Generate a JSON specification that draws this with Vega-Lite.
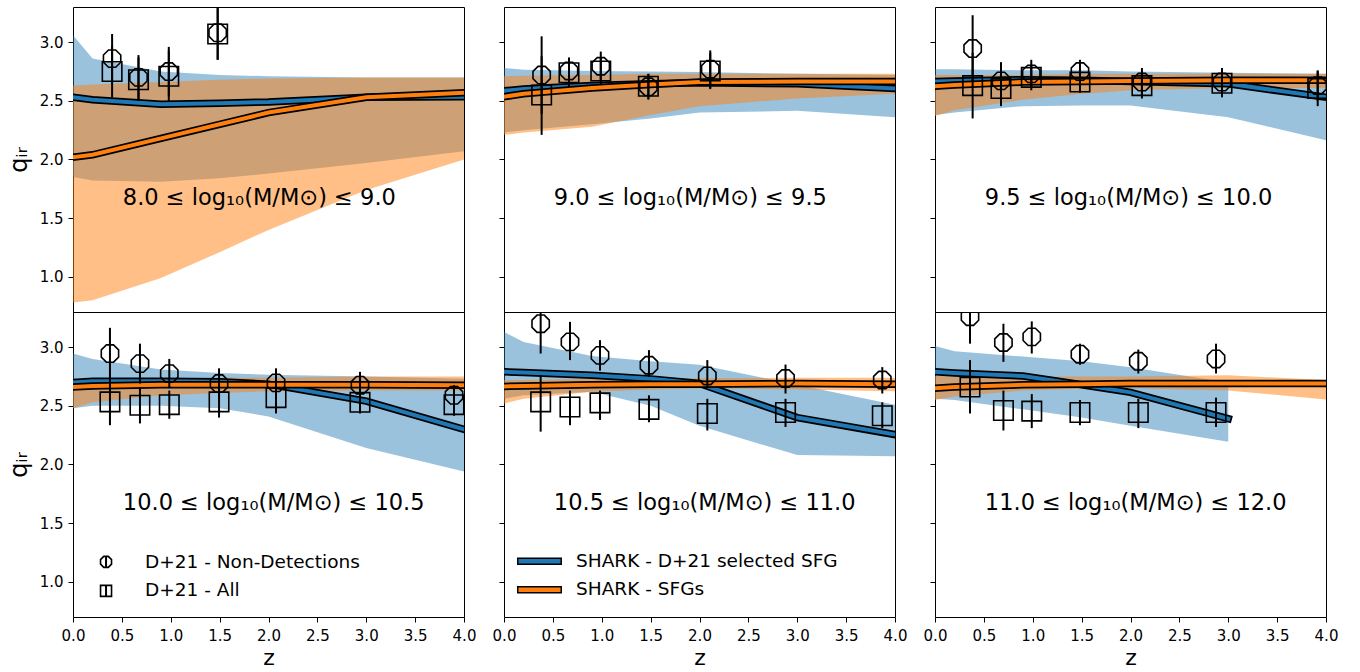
{
"$schema": "https://vega.github.io/schema/vega-lite/v6.json",
"padding": {"left": 6, "top": 6, "right": 5, "bottom": 0},
"columns": 3,
"bounds": "flush",
"spacing": {"row": 0, "column": 40},
"datasets": {
"sim": [
{"p":1,"z":0,"b_lo":1.85,"b_hi":3.06,"b_med":2.53,"o_lo":0.78,"o_hi":2.63,"o_med":2.02},
{"p":1,"z":0.2,"b_lo":1.82,"b_hi":2.86,"b_med":2.51,"o_lo":0.80,"o_hi":2.64,"o_med":2.04},
{"p":1,"z":0.9,"b_lo":1.81,"b_hi":2.75,"b_med":2.47,"o_lo":0.99,"o_hi":2.66,"o_med":2.18},
{"p":1,"z":1.5,"b_lo":1.84,"b_hi":2.72,"b_med":2.48,"o_lo":1.21,"o_hi":2.68,"o_med":2.30},
{"p":1,"z":2.0,"b_lo":1.88,"b_hi":2.71,"b_med":2.49,"o_lo":1.40,"o_hi":2.69,"o_med":2.40},
{"p":1,"z":3.0,"b_lo":1.97,"b_hi":2.70,"b_med":2.53,"o_lo":1.74,"o_hi":2.70,"o_med":2.53},
{"p":1,"z":4.0,"b_lo":2.07,"b_hi":2.70,"b_med":2.535,"o_lo":2.00,"o_hi":2.70,"o_med":2.57},
{"p":2,"z":0,"b_lo":2.23,"b_hi":2.78,"b_med":2.585,"o_lo":2.21,"o_hi":2.71,"o_med":2.535},
{"p":2,"z":0.2,"b_lo":2.25,"b_hi":2.765,"b_med":2.60,"o_lo":2.23,"o_hi":2.715,"o_med":2.56},
{"p":2,"z":0.9,"b_lo":2.30,"b_hi":2.755,"b_med":2.63,"o_lo":2.28,"o_hi":2.72,"o_med":2.61},
{"p":2,"z":1.5,"b_lo":2.35,"b_hi":2.75,"b_med":2.645,"o_lo":2.38,"o_hi":2.73,"o_med":2.64},
{"p":2,"z":2.0,"b_lo":2.40,"b_hi":2.745,"b_med":2.655,"o_lo":2.455,"o_hi":2.73,"o_med":2.66},
{"p":2,"z":3.0,"b_lo":2.415,"b_hi":2.73,"b_med":2.645,"o_lo":2.52,"o_hi":2.73,"o_med":2.665},
{"p":2,"z":4.0,"b_lo":2.36,"b_hi":2.72,"b_med":2.605,"o_lo":2.56,"o_hi":2.73,"o_med":2.665},
{"p":3,"z":0,"b_lo":2.38,"b_hi":2.77,"b_med":2.665,"o_lo":2.37,"o_hi":2.72,"o_med":2.625},
{"p":3,"z":0.2,"b_lo":2.40,"b_hi":2.77,"b_med":2.67,"o_lo":2.42,"o_hi":2.72,"o_med":2.635},
{"p":3,"z":0.9,"b_lo":2.455,"b_hi":2.76,"b_med":2.68,"o_lo":2.51,"o_hi":2.72,"o_med":2.66},
{"p":3,"z":1.5,"b_lo":2.46,"b_hi":2.76,"b_med":2.675,"o_lo":2.56,"o_hi":2.73,"o_med":2.665},
{"p":3,"z":2.0,"b_lo":2.46,"b_hi":2.75,"b_med":2.665,"o_lo":2.59,"o_hi":2.73,"o_med":2.67},
{"p":3,"z":3.0,"b_lo":2.36,"b_hi":2.74,"b_med":2.645,"o_lo":2.61,"o_hi":2.73,"o_med":2.675},
{"p":3,"z":4.0,"b_lo":2.165,"b_hi":2.73,"b_med":2.53,"o_lo":2.61,"o_hi":2.73,"o_med":2.675},
{"p":4,"z":0,"b_lo":2.48,"b_hi":2.946,"b_med":2.70,"o_lo":2.48,"o_hi":2.73,"o_med":2.66},
{"p":4,"z":0.2,"b_lo":2.50,"b_hi":2.90,"b_med":2.71,"o_lo":2.53,"o_hi":2.73,"o_med":2.67},
{"p":4,"z":0.9,"b_lo":2.50,"b_hi":2.81,"b_med":2.71,"o_lo":2.59,"o_hi":2.73,"o_med":2.68},
{"p":4,"z":1.5,"b_lo":2.48,"b_hi":2.78,"b_med":2.705,"o_lo":2.61,"o_hi":2.74,"o_med":2.68},
{"p":4,"z":2.0,"b_lo":2.41,"b_hi":2.765,"b_med":2.685,"o_lo":2.625,"o_hi":2.74,"o_med":2.68},
{"p":4,"z":3.0,"b_lo":2.14,"b_hi":2.75,"b_med":2.54,"o_lo":2.63,"o_hi":2.75,"o_med":2.68},
{"p":4,"z":4.0,"b_lo":1.94,"b_hi":2.73,"b_med":2.30,"o_lo":2.63,"o_hi":2.75,"o_med":2.675},
{"p":5,"z":0,"b_lo":2.56,"b_hi":3.13,"b_med":2.79,"o_lo":2.52,"o_hi":2.72,"o_med":2.665},
{"p":5,"z":0.2,"b_lo":2.59,"b_hi":3.045,"b_med":2.785,"o_lo":2.56,"o_hi":2.72,"o_med":2.67},
{"p":5,"z":0.9,"b_lo":2.62,"b_hi":2.925,"b_med":2.76,"o_lo":2.62,"o_hi":2.73,"o_med":2.68},
{"p":5,"z":1.5,"b_lo":2.50,"b_hi":2.88,"b_med":2.73,"o_lo":2.64,"o_hi":2.73,"o_med":2.685},
{"p":5,"z":2.0,"b_lo":2.33,"b_hi":2.85,"b_med":2.69,"o_lo":2.65,"o_hi":2.735,"o_med":2.685},
{"p":5,"z":3.0,"b_lo":2.08,"b_hi":2.68,"b_med":2.40,"o_lo":2.64,"o_hi":2.74,"o_med":2.69},
{"p":5,"z":4.0,"b_lo":2.07,"b_hi":2.51,"b_med":2.255,"o_lo":2.625,"o_hi":2.74,"o_med":2.685},
{"p":6,"z":0,"b_lo":2.56,"b_hi":3.01,"b_med":2.79,"o_lo":2.55,"o_hi":2.755,"o_med":2.65},
{"p":6,"z":0.2,"b_lo":2.55,"b_hi":2.965,"b_med":2.78,"o_lo":2.58,"o_hi":2.75,"o_med":2.66},
{"p":6,"z":0.9,"b_lo":2.47,"b_hi":2.92,"b_med":2.755,"o_lo":2.63,"o_hi":2.75,"o_med":2.68},
{"p":6,"z":1.5,"b_lo":2.40,"b_hi":2.88,"b_med":2.68,"o_lo":2.645,"o_hi":2.75,"o_med":2.685},
{"p":6,"z":2.0,"b_lo":2.33,"b_hi":2.83,"b_med":2.615,"o_lo":2.65,"o_hi":2.75,"o_med":2.69},
{"p":6,"z":3.0,"b_lo":2.195,"b_hi":2.70,"b_med":2.39,"o_lo":2.63,"o_hi":2.76,"o_med":2.69},
{"p":6,"z":4.0,"b_lo":null,"b_hi":null,"b_med":null,"o_lo":2.555,"o_hi":2.72,"o_med":2.69}
],
"pts": [
{"p":1,"kind":"nd","z":0.40,"q":2.86,"lo":2.65,"hi":3.07},
{"p":1,"kind":"nd","z":0.67,"q":2.70,"lo":2.51,"hi":2.89},
{"p":1,"kind":"nd","z":0.98,"q":2.75,"lo":2.54,"hi":2.96},
{"p":1,"kind":"nd","z":1.48,"q":3.08,"lo":2.85,"hi":3.30},
{"p":1,"kind":"all","z":0.40,"q":2.75,"lo":2.53,"hi":2.97},
{"p":1,"kind":"all","z":0.67,"q":2.68,"lo":2.50,"hi":2.87},
{"p":1,"kind":"all","z":0.98,"q":2.71,"lo":2.49,"hi":2.93},
{"p":1,"kind":"all","z":1.48,"q":3.07,"lo":2.85,"hi":3.29},
{"p":2,"kind":"nd","z":0.385,"q":2.72,"lo":2.39,"hi":3.05},
{"p":2,"kind":"nd","z":0.665,"q":2.755,"lo":2.64,"hi":2.87},
{"p":2,"kind":"nd","z":0.99,"q":2.795,"lo":2.67,"hi":2.92},
{"p":2,"kind":"nd","z":1.477,"q":2.62,"lo":2.51,"hi":2.73},
{"p":2,"kind":"nd","z":2.11,"q":2.77,"lo":2.61,"hi":2.93},
{"p":2,"kind":"all","z":0.385,"q":2.55,"lo":2.21,"hi":2.88},
{"p":2,"kind":"all","z":0.665,"q":2.74,"lo":2.62,"hi":2.86},
{"p":2,"kind":"all","z":0.99,"q":2.755,"lo":2.64,"hi":2.87},
{"p":2,"kind":"all","z":1.477,"q":2.625,"lo":2.52,"hi":2.73},
{"p":2,"kind":"all","z":2.11,"q":2.755,"lo":2.60,"hi":2.91},
{"p":3,"kind":"nd","z":0.385,"q":2.946,"lo":2.66,"hi":3.23},
{"p":3,"kind":"nd","z":0.675,"q":2.67,"lo":2.51,"hi":2.83},
{"p":3,"kind":"nd","z":0.985,"q":2.73,"lo":2.61,"hi":2.85},
{"p":3,"kind":"nd","z":1.483,"q":2.75,"lo":2.65,"hi":2.85},
{"p":3,"kind":"nd","z":2.117,"q":2.66,"lo":2.54,"hi":2.78},
{"p":3,"kind":"nd","z":2.936,"q":2.66,"lo":2.54,"hi":2.78},
{"p":3,"kind":"nd","z":3.915,"q":2.63,"lo":2.50,"hi":2.76},
{"p":3,"kind":"all","z":0.385,"q":2.63,"lo":2.35,"hi":2.91},
{"p":3,"kind":"all","z":0.675,"q":2.605,"lo":2.455,"hi":2.755},
{"p":3,"kind":"all","z":0.985,"q":2.70,"lo":2.59,"hi":2.81},
{"p":3,"kind":"all","z":1.483,"q":2.66,"lo":2.57,"hi":2.75},
{"p":3,"kind":"all","z":2.117,"q":2.63,"lo":2.52,"hi":2.74},
{"p":3,"kind":"all","z":2.936,"q":2.65,"lo":2.53,"hi":2.77},
{"p":3,"kind":"all","z":3.915,"q":2.605,"lo":2.455,"hi":2.755},
{"p":4,"kind":"nd","z":0.378,"q":2.946,"lo":2.73,"hi":3.165},
{"p":4,"kind":"nd","z":0.685,"q":2.86,"lo":2.69,"hi":3.03},
{"p":4,"kind":"nd","z":0.985,"q":2.775,"lo":2.65,"hi":2.90},
{"p":4,"kind":"nd","z":1.494,"q":2.69,"lo":2.56,"hi":2.82},
{"p":4,"kind":"nd","z":2.077,"q":2.696,"lo":2.57,"hi":2.82},
{"p":4,"kind":"nd","z":2.936,"q":2.676,"lo":2.566,"hi":2.79},
{"p":4,"kind":"nd","z":3.898,"q":2.59,"lo":2.505,"hi":2.676},
{"p":4,"kind":"all","z":0.378,"q":2.534,"lo":2.335,"hi":2.73},
{"p":4,"kind":"all","z":0.685,"q":2.505,"lo":2.35,"hi":2.66},
{"p":4,"kind":"all","z":0.985,"q":2.51,"lo":2.39,"hi":2.63},
{"p":4,"kind":"all","z":1.494,"q":2.534,"lo":2.40,"hi":2.66},
{"p":4,"kind":"all","z":2.077,"q":2.57,"lo":2.435,"hi":2.705},
{"p":4,"kind":"all","z":2.936,"q":2.53,"lo":2.435,"hi":2.625},
{"p":4,"kind":"all","z":3.898,"q":2.51,"lo":2.415,"hi":2.605},
{"p":5,"kind":"nd","z":0.375,"q":3.20,"lo":2.946,"hi":3.45},
{"p":5,"kind":"nd","z":0.675,"q":3.045,"lo":2.89,"hi":3.216},
{"p":5,"kind":"nd","z":0.982,"q":2.93,"lo":2.80,"hi":3.06},
{"p":5,"kind":"nd","z":1.483,"q":2.846,"lo":2.747,"hi":2.975},
{"p":5,"kind":"nd","z":2.08,"q":2.755,"lo":2.65,"hi":2.89},
{"p":5,"kind":"nd","z":2.88,"q":2.733,"lo":2.605,"hi":2.852},
{"p":5,"kind":"nd","z":3.87,"q":2.72,"lo":2.605,"hi":2.83},
{"p":5,"kind":"all","z":0.375,"q":2.534,"lo":2.28,"hi":2.76},
{"p":5,"kind":"all","z":0.675,"q":2.49,"lo":2.335,"hi":2.63},
{"p":5,"kind":"all","z":0.982,"q":2.525,"lo":2.38,"hi":2.63},
{"p":5,"kind":"all","z":1.483,"q":2.47,"lo":2.36,"hi":2.59},
{"p":5,"kind":"all","z":2.08,"q":2.435,"lo":2.29,"hi":2.56},
{"p":5,"kind":"all","z":2.88,"q":2.443,"lo":2.32,"hi":2.56},
{"p":5,"kind":"all","z":3.87,"q":2.415,"lo":2.31,"hi":2.53},
{"p":6,"kind":"nd","z":0.358,"q":3.26,"lo":3.03,"hi":3.49},
{"p":6,"kind":"nd","z":0.70,"q":3.04,"lo":2.875,"hi":3.20},
{"p":6,"kind":"nd","z":0.99,"q":3.088,"lo":2.946,"hi":3.22},
{"p":6,"kind":"nd","z":1.483,"q":2.94,"lo":2.85,"hi":3.03},
{"p":6,"kind":"nd","z":2.08,"q":2.88,"lo":2.776,"hi":2.98},
{"p":6,"kind":"nd","z":2.875,"q":2.90,"lo":2.776,"hi":3.03},
{"p":6,"kind":"all","z":0.358,"q":2.66,"lo":2.435,"hi":2.89},
{"p":6,"kind":"all","z":0.70,"q":2.46,"lo":2.29,"hi":2.63},
{"p":6,"kind":"all","z":0.99,"q":2.455,"lo":2.31,"hi":2.60},
{"p":6,"kind":"all","z":1.483,"q":2.443,"lo":2.335,"hi":2.55},
{"p":6,"kind":"all","z":2.08,"q":2.443,"lo":2.31,"hi":2.56},
{"p":6,"kind":"all","z":2.875,"q":2.443,"lo":2.32,"hi":2.57}
],
"labels": [
{"p":1,"label":"8.0 ≤ log₁₀(M/M⊙) ≤ 9.0"},
{"p":2,"label":"9.0 ≤ log₁₀(M/M⊙) ≤ 9.5"},
{"p":3,"label":"9.5 ≤ log₁₀(M/M⊙) ≤ 10.0"},
{"p":4,"label":"10.0 ≤ log₁₀(M/M⊙) ≤ 10.5"},
{"p":5,"label":"10.5 ≤ log₁₀(M/M⊙) ≤ 11.0"},
{"p":6,"label":"11.0 ≤ log₁₀(M/M⊙) ≤ 12.0"}
],
"leg": [
{"e":"nd","label":"D+21 - Non-Detections"},
{"e":"all","label":"D+21 - All"},
{"e":"blue","label":"SHARK - D+21 selected SFG"},
{"e":"orange","label":"SHARK - SFGs"}
]
},
"concat": [
{"width":391,"height":305,
"layer":[
{"data":{"name":"sim"},"transform":[{"filter":"datum.p == 1"}],"mark":{"type":"area","color":"#1f77b4","opacity":0.45,"clip":true},"encoding":{"x":{"field":"z","type":"quantitative","scale":{"domain":[0,4],"nice":false,"zero":false},"axis":null},"y":{"field":"b_lo","type":"quantitative","scale":{"domain":[0.7,3.3],"nice":false,"zero":false},"axis":{"title":"qᵢᵣ","values":[1,1.5,2,2.5,3],"format":".1f"}},"y2":{"field":"b_hi"}}},
{"data":{"name":"sim"},"transform":[{"filter":"datum.p == 1"}],"mark":{"type":"area","color":"#ff7f0e","opacity":0.5,"clip":true},"encoding":{"x":{"field":"z","type":"quantitative","axis":null},"y":{"field":"o_lo","type":"quantitative"},"y2":{"field":"o_hi"}}},
{"data":{"name":"sim"},"transform":[{"filter":"datum.p == 1"}],"mark":{"type":"line","color":"black","strokeWidth":7.5,"strokeCap":"square","clip":true},"encoding":{"x":{"field":"z","type":"quantitative","axis":null},"y":{"field":"b_med","type":"quantitative"}}},
{"data":{"name":"sim"},"transform":[{"filter":"datum.p == 1"}],"mark":{"type":"line","color":"#1f77b4","strokeWidth":4,"strokeCap":"square","clip":true},"encoding":{"x":{"field":"z","type":"quantitative","axis":null},"y":{"field":"b_med","type":"quantitative"}}},
{"data":{"name":"sim"},"transform":[{"filter":"datum.p == 1"}],"mark":{"type":"line","color":"black","strokeWidth":7.5,"strokeCap":"square","clip":true},"encoding":{"x":{"field":"z","type":"quantitative","axis":null},"y":{"field":"o_med","type":"quantitative"}}},
{"data":{"name":"sim"},"transform":[{"filter":"datum.p == 1"}],"mark":{"type":"line","color":"#ff7f0e","strokeWidth":4,"strokeCap":"square","clip":true},"encoding":{"x":{"field":"z","type":"quantitative","axis":null},"y":{"field":"o_med","type":"quantitative"}}},
{"data":{"name":"pts"},"transform":[{"filter":"datum.p == 1"}],"mark":{"type":"rule","color":"black","strokeWidth":2,"clip":true},"encoding":{"x":{"field":"z","type":"quantitative","axis":null},"y":{"field":"lo","type":"quantitative"},"y2":{"field":"hi"}}},
{"data":{"name":"pts"},"transform":[{"filter":"datum.p == 1 && datum.kind == 'nd'"}],"mark":{"type":"point","shape":"M0.4142,-1L1,-0.4142L1,0.4142L0.4142,1L-0.4142,1L-1,0.4142L-1,-0.4142L-0.4142,-1Z","filled":false,"stroke":"black","strokeWidth":1.6,"size":300,"opacity":1,"clip":true},"encoding":{"x":{"field":"z","type":"quantitative","axis":null},"y":{"field":"q","type":"quantitative"}}},
{"data":{"name":"pts"},"transform":[{"filter":"datum.p == 1 && datum.kind == 'all'"}],"mark":{"type":"point","shape":"square","filled":false,"stroke":"black","strokeWidth":1.6,"size":380,"opacity":1,"clip":true},"encoding":{"x":{"field":"z","type":"quantitative","axis":null},"y":{"field":"q","type":"quantitative"}}},
{"data":{"name":"labels"},"transform":[{"filter":"datum.p == 1"}],"mark":{"type":"text","align":"left","baseline":"alphabetic","fontSize":22.5,"fill":"black"},"encoding":{"x":{"datum":0.51,"type":"quantitative","axis":null},"y":{"datum":1.61,"type":"quantitative"},"text":{"field":"label","type":"nominal"}}}
]},
{"width":391,"height":305,
"layer":[
{"data":{"name":"sim"},"transform":[{"filter":"datum.p == 2"}],"mark":{"type":"area","color":"#1f77b4","opacity":0.45,"clip":true},"encoding":{"x":{"field":"z","type":"quantitative","scale":{"domain":[0,4],"nice":false,"zero":false},"axis":null},"y":{"field":"b_lo","type":"quantitative","scale":{"domain":[0.7,3.3],"nice":false,"zero":false},"axis":{"title":null,"labels":false,"values":[1,1.5,2,2.5,3]}},"y2":{"field":"b_hi"}}},
{"data":{"name":"sim"},"transform":[{"filter":"datum.p == 2"}],"mark":{"type":"area","color":"#ff7f0e","opacity":0.5,"clip":true},"encoding":{"x":{"field":"z","type":"quantitative","axis":null},"y":{"field":"o_lo","type":"quantitative"},"y2":{"field":"o_hi"}}},
{"data":{"name":"sim"},"transform":[{"filter":"datum.p == 2"}],"mark":{"type":"line","color":"black","strokeWidth":7.5,"strokeCap":"square","clip":true},"encoding":{"x":{"field":"z","type":"quantitative","axis":null},"y":{"field":"b_med","type":"quantitative"}}},
{"data":{"name":"sim"},"transform":[{"filter":"datum.p == 2"}],"mark":{"type":"line","color":"#1f77b4","strokeWidth":4,"strokeCap":"square","clip":true},"encoding":{"x":{"field":"z","type":"quantitative","axis":null},"y":{"field":"b_med","type":"quantitative"}}},
{"data":{"name":"sim"},"transform":[{"filter":"datum.p == 2"}],"mark":{"type":"line","color":"black","strokeWidth":7.5,"strokeCap":"square","clip":true},"encoding":{"x":{"field":"z","type":"quantitative","axis":null},"y":{"field":"o_med","type":"quantitative"}}},
{"data":{"name":"sim"},"transform":[{"filter":"datum.p == 2"}],"mark":{"type":"line","color":"#ff7f0e","strokeWidth":4,"strokeCap":"square","clip":true},"encoding":{"x":{"field":"z","type":"quantitative","axis":null},"y":{"field":"o_med","type":"quantitative"}}},
{"data":{"name":"pts"},"transform":[{"filter":"datum.p == 2"}],"mark":{"type":"rule","color":"black","strokeWidth":2,"clip":true},"encoding":{"x":{"field":"z","type":"quantitative","axis":null},"y":{"field":"lo","type":"quantitative"},"y2":{"field":"hi"}}},
{"data":{"name":"pts"},"transform":[{"filter":"datum.p == 2 && datum.kind == 'nd'"}],"mark":{"type":"point","shape":"M0.4142,-1L1,-0.4142L1,0.4142L0.4142,1L-0.4142,1L-1,0.4142L-1,-0.4142L-0.4142,-1Z","filled":false,"stroke":"black","strokeWidth":1.6,"size":300,"opacity":1,"clip":true},"encoding":{"x":{"field":"z","type":"quantitative","axis":null},"y":{"field":"q","type":"quantitative"}}},
{"data":{"name":"pts"},"transform":[{"filter":"datum.p == 2 && datum.kind == 'all'"}],"mark":{"type":"point","shape":"square","filled":false,"stroke":"black","strokeWidth":1.6,"size":380,"opacity":1,"clip":true},"encoding":{"x":{"field":"z","type":"quantitative","axis":null},"y":{"field":"q","type":"quantitative"}}},
{"data":{"name":"labels"},"transform":[{"filter":"datum.p == 2"}],"mark":{"type":"text","align":"left","baseline":"alphabetic","fontSize":22.5,"fill":"black"},"encoding":{"x":{"datum":0.51,"type":"quantitative","axis":null},"y":{"datum":1.61,"type":"quantitative"},"text":{"field":"label","type":"nominal"}}}
]},
{"width":391,"height":305,
"layer":[
{"data":{"name":"sim"},"transform":[{"filter":"datum.p == 3"}],"mark":{"type":"area","color":"#1f77b4","opacity":0.45,"clip":true},"encoding":{"x":{"field":"z","type":"quantitative","scale":{"domain":[0,4],"nice":false,"zero":false},"axis":null},"y":{"field":"b_lo","type":"quantitative","scale":{"domain":[0.7,3.3],"nice":false,"zero":false},"axis":{"title":null,"labels":false,"values":[1,1.5,2,2.5,3]}},"y2":{"field":"b_hi"}}},
{"data":{"name":"sim"},"transform":[{"filter":"datum.p == 3"}],"mark":{"type":"area","color":"#ff7f0e","opacity":0.5,"clip":true},"encoding":{"x":{"field":"z","type":"quantitative","axis":null},"y":{"field":"o_lo","type":"quantitative"},"y2":{"field":"o_hi"}}},
{"data":{"name":"sim"},"transform":[{"filter":"datum.p == 3"}],"mark":{"type":"line","color":"black","strokeWidth":7.5,"strokeCap":"square","clip":true},"encoding":{"x":{"field":"z","type":"quantitative","axis":null},"y":{"field":"b_med","type":"quantitative"}}},
{"data":{"name":"sim"},"transform":[{"filter":"datum.p == 3"}],"mark":{"type":"line","color":"#1f77b4","strokeWidth":4,"strokeCap":"square","clip":true},"encoding":{"x":{"field":"z","type":"quantitative","axis":null},"y":{"field":"b_med","type":"quantitative"}}},
{"data":{"name":"sim"},"transform":[{"filter":"datum.p == 3"}],"mark":{"type":"line","color":"black","strokeWidth":7.5,"strokeCap":"square","clip":true},"encoding":{"x":{"field":"z","type":"quantitative","axis":null},"y":{"field":"o_med","type":"quantitative"}}},
{"data":{"name":"sim"},"transform":[{"filter":"datum.p == 3"}],"mark":{"type":"line","color":"#ff7f0e","strokeWidth":4,"strokeCap":"square","clip":true},"encoding":{"x":{"field":"z","type":"quantitative","axis":null},"y":{"field":"o_med","type":"quantitative"}}},
{"data":{"name":"pts"},"transform":[{"filter":"datum.p == 3"}],"mark":{"type":"rule","color":"black","strokeWidth":2,"clip":true},"encoding":{"x":{"field":"z","type":"quantitative","axis":null},"y":{"field":"lo","type":"quantitative"},"y2":{"field":"hi"}}},
{"data":{"name":"pts"},"transform":[{"filter":"datum.p == 3 && datum.kind == 'nd'"}],"mark":{"type":"point","shape":"M0.4142,-1L1,-0.4142L1,0.4142L0.4142,1L-0.4142,1L-1,0.4142L-1,-0.4142L-0.4142,-1Z","filled":false,"stroke":"black","strokeWidth":1.6,"size":300,"opacity":1,"clip":true},"encoding":{"x":{"field":"z","type":"quantitative","axis":null},"y":{"field":"q","type":"quantitative"}}},
{"data":{"name":"pts"},"transform":[{"filter":"datum.p == 3 && datum.kind == 'all'"}],"mark":{"type":"point","shape":"square","filled":false,"stroke":"black","strokeWidth":1.6,"size":380,"opacity":1,"clip":true},"encoding":{"x":{"field":"z","type":"quantitative","axis":null},"y":{"field":"q","type":"quantitative"}}},
{"data":{"name":"labels"},"transform":[{"filter":"datum.p == 3"}],"mark":{"type":"text","align":"left","baseline":"alphabetic","fontSize":22.5,"fill":"black"},"encoding":{"x":{"datum":0.51,"type":"quantitative","axis":null},"y":{"datum":1.61,"type":"quantitative"},"text":{"field":"label","type":"nominal"}}}
]},
{"width":391,"height":305,
"layer":[
{"data":{"name":"sim"},"transform":[{"filter":"datum.p == 4"}],"mark":{"type":"area","color":"#1f77b4","opacity":0.45,"clip":true},"encoding":{"x":{"field":"z","type":"quantitative","scale":{"domain":[0,4],"nice":false,"zero":false},"axis":{"title":"z","values":[0,0.5,1,1.5,2,2.5,3,3.5,4],"format":".1f","labelFlush":false,"labelPadding":6,"titleFontSize":22,"titlePadding":4}},"y":{"field":"b_lo","type":"quantitative","scale":{"domain":[0.7,3.3],"nice":false,"zero":false},"axis":{"title":"qᵢᵣ","values":[1,1.5,2,2.5,3],"format":".1f"}},"y2":{"field":"b_hi"}}},
{"data":{"name":"sim"},"transform":[{"filter":"datum.p == 4"}],"mark":{"type":"area","color":"#ff7f0e","opacity":0.5,"clip":true},"encoding":{"x":{"field":"z","type":"quantitative"},"y":{"field":"o_lo","type":"quantitative"},"y2":{"field":"o_hi"}}},
{"data":{"name":"sim"},"transform":[{"filter":"datum.p == 4"}],"mark":{"type":"line","color":"black","strokeWidth":7.5,"strokeCap":"square","clip":true},"encoding":{"x":{"field":"z","type":"quantitative"},"y":{"field":"b_med","type":"quantitative"}}},
{"data":{"name":"sim"},"transform":[{"filter":"datum.p == 4"}],"mark":{"type":"line","color":"#1f77b4","strokeWidth":4,"strokeCap":"square","clip":true},"encoding":{"x":{"field":"z","type":"quantitative"},"y":{"field":"b_med","type":"quantitative"}}},
{"data":{"name":"sim"},"transform":[{"filter":"datum.p == 4"}],"mark":{"type":"line","color":"black","strokeWidth":7.5,"strokeCap":"square","clip":true},"encoding":{"x":{"field":"z","type":"quantitative"},"y":{"field":"o_med","type":"quantitative"}}},
{"data":{"name":"sim"},"transform":[{"filter":"datum.p == 4"}],"mark":{"type":"line","color":"#ff7f0e","strokeWidth":4,"strokeCap":"square","clip":true},"encoding":{"x":{"field":"z","type":"quantitative"},"y":{"field":"o_med","type":"quantitative"}}},
{"data":{"name":"pts"},"transform":[{"filter":"datum.p == 4"}],"mark":{"type":"rule","color":"black","strokeWidth":2,"clip":true},"encoding":{"x":{"field":"z","type":"quantitative"},"y":{"field":"lo","type":"quantitative"},"y2":{"field":"hi"}}},
{"data":{"name":"pts"},"transform":[{"filter":"datum.p == 4 && datum.kind == 'nd'"}],"mark":{"type":"point","shape":"M0.4142,-1L1,-0.4142L1,0.4142L0.4142,1L-0.4142,1L-1,0.4142L-1,-0.4142L-0.4142,-1Z","filled":false,"stroke":"black","strokeWidth":1.6,"size":300,"opacity":1,"clip":true},"encoding":{"x":{"field":"z","type":"quantitative"},"y":{"field":"q","type":"quantitative"}}},
{"data":{"name":"pts"},"transform":[{"filter":"datum.p == 4 && datum.kind == 'all'"}],"mark":{"type":"point","shape":"square","filled":false,"stroke":"black","strokeWidth":1.6,"size":380,"opacity":1,"clip":true},"encoding":{"x":{"field":"z","type":"quantitative"},"y":{"field":"q","type":"quantitative"}}},
{"data":{"name":"labels"},"transform":[{"filter":"datum.p == 4"}],"mark":{"type":"text","align":"left","baseline":"alphabetic","fontSize":22.5,"fill":"black"},"encoding":{"x":{"datum":0.51,"type":"quantitative"},"y":{"datum":1.61,"type":"quantitative"},"text":{"field":"label","type":"nominal"}}},
{"data":{"name":"leg"},"transform":[{"filter":"datum.e == 'nd'"}],"mark":{"type":"rule","color":"black","strokeWidth":2},"encoding":{"x":{"datum":0.338,"type":"quantitative"},"y":{"datum":1.12,"type":"quantitative"},"y2":{"datum":1.22}}},
{"data":{"name":"leg"},"transform":[{"filter":"datum.e == 'nd'"}],"mark":{"type":"point","shape":"M0.4142,-1L1,-0.4142L1,0.4142L0.4142,1L-0.4142,1L-1,0.4142L-1,-0.4142L-0.4142,-1Z","filled":false,"stroke":"black","strokeWidth":1.6,"size":121,"opacity":1},"encoding":{"x":{"datum":0.338,"type":"quantitative"},"y":{"datum":1.17,"type":"quantitative"}}},
{"data":{"name":"leg"},"transform":[{"filter":"datum.e == 'all'"}],"mark":{"type":"rule","color":"black","strokeWidth":2},"encoding":{"x":{"datum":0.338,"type":"quantitative"},"y":{"datum":0.873,"type":"quantitative"},"y2":{"datum":0.973}}},
{"data":{"name":"leg"},"transform":[{"filter":"datum.e == 'all'"}],"mark":{"type":"point","shape":"square","filled":false,"stroke":"black","strokeWidth":1.6,"size":121,"opacity":1},"encoding":{"x":{"datum":0.338,"type":"quantitative"},"y":{"datum":0.923,"type":"quantitative"}}},
{"data":{"name":"leg"},"transform":[{"filter":"datum.e == 'nd'"}],"mark":{"type":"text","align":"left","baseline":"alphabetic","fontSize":18.5,"fill":"black"},"encoding":{"x":{"datum":0.737,"type":"quantitative"},"y":{"datum":1.119,"type":"quantitative"},"text":{"field":"label","type":"nominal"}}},
{"data":{"name":"leg"},"transform":[{"filter":"datum.e == 'all'"}],"mark":{"type":"text","align":"left","baseline":"alphabetic","fontSize":18.5,"fill":"black"},"encoding":{"x":{"datum":0.737,"type":"quantitative"},"y":{"datum":0.878,"type":"quantitative"},"text":{"field":"label","type":"nominal"}}}
]},
{"width":391,"height":305,
"layer":[
{"data":{"name":"sim"},"transform":[{"filter":"datum.p == 5"}],"mark":{"type":"area","color":"#1f77b4","opacity":0.45,"clip":true},"encoding":{"x":{"field":"z","type":"quantitative","scale":{"domain":[0,4],"nice":false,"zero":false},"axis":{"title":"z","values":[0,0.5,1,1.5,2,2.5,3,3.5,4],"format":".1f","labelFlush":false,"labelPadding":6,"titleFontSize":22,"titlePadding":4}},"y":{"field":"b_lo","type":"quantitative","scale":{"domain":[0.7,3.3],"nice":false,"zero":false},"axis":{"title":null,"labels":false,"values":[1,1.5,2,2.5,3]}},"y2":{"field":"b_hi"}}},
{"data":{"name":"sim"},"transform":[{"filter":"datum.p == 5"}],"mark":{"type":"area","color":"#ff7f0e","opacity":0.5,"clip":true},"encoding":{"x":{"field":"z","type":"quantitative"},"y":{"field":"o_lo","type":"quantitative"},"y2":{"field":"o_hi"}}},
{"data":{"name":"sim"},"transform":[{"filter":"datum.p == 5"}],"mark":{"type":"line","color":"black","strokeWidth":7.5,"strokeCap":"square","clip":true},"encoding":{"x":{"field":"z","type":"quantitative"},"y":{"field":"b_med","type":"quantitative"}}},
{"data":{"name":"sim"},"transform":[{"filter":"datum.p == 5"}],"mark":{"type":"line","color":"#1f77b4","strokeWidth":4,"strokeCap":"square","clip":true},"encoding":{"x":{"field":"z","type":"quantitative"},"y":{"field":"b_med","type":"quantitative"}}},
{"data":{"name":"sim"},"transform":[{"filter":"datum.p == 5"}],"mark":{"type":"line","color":"black","strokeWidth":7.5,"strokeCap":"square","clip":true},"encoding":{"x":{"field":"z","type":"quantitative"},"y":{"field":"o_med","type":"quantitative"}}},
{"data":{"name":"sim"},"transform":[{"filter":"datum.p == 5"}],"mark":{"type":"line","color":"#ff7f0e","strokeWidth":4,"strokeCap":"square","clip":true},"encoding":{"x":{"field":"z","type":"quantitative"},"y":{"field":"o_med","type":"quantitative"}}},
{"data":{"name":"pts"},"transform":[{"filter":"datum.p == 5"}],"mark":{"type":"rule","color":"black","strokeWidth":2,"clip":true},"encoding":{"x":{"field":"z","type":"quantitative"},"y":{"field":"lo","type":"quantitative"},"y2":{"field":"hi"}}},
{"data":{"name":"pts"},"transform":[{"filter":"datum.p == 5 && datum.kind == 'nd'"}],"mark":{"type":"point","shape":"M0.4142,-1L1,-0.4142L1,0.4142L0.4142,1L-0.4142,1L-1,0.4142L-1,-0.4142L-0.4142,-1Z","filled":false,"stroke":"black","strokeWidth":1.6,"size":300,"opacity":1,"clip":true},"encoding":{"x":{"field":"z","type":"quantitative"},"y":{"field":"q","type":"quantitative"}}},
{"data":{"name":"pts"},"transform":[{"filter":"datum.p == 5 && datum.kind == 'all'"}],"mark":{"type":"point","shape":"square","filled":false,"stroke":"black","strokeWidth":1.6,"size":380,"opacity":1,"clip":true},"encoding":{"x":{"field":"z","type":"quantitative"},"y":{"field":"q","type":"quantitative"}}},
{"data":{"name":"labels"},"transform":[{"filter":"datum.p == 5"}],"mark":{"type":"text","align":"left","baseline":"alphabetic","fontSize":22.5,"fill":"black"},"encoding":{"x":{"datum":0.51,"type":"quantitative"},"y":{"datum":1.61,"type":"quantitative"},"text":{"field":"label","type":"nominal"}}},
{"data":{"name":"leg"},"transform":[{"filter":"datum.e == 'blue'"}],"mark":{"type":"rule","color":"black","strokeWidth":7.5,"strokeCap":"butt"},"encoding":{"x":{"datum":0.133,"type":"quantitative"},"x2":{"datum":0.593},"y":{"datum":1.176,"type":"quantitative"}}},
{"data":{"name":"leg"},"transform":[{"filter":"datum.e == 'blue'"}],"mark":{"type":"rule","color":"#1f77b4","strokeWidth":4.5,"strokeCap":"butt"},"encoding":{"x":{"datum":0.148,"type":"quantitative"},"x2":{"datum":0.578},"y":{"datum":1.176,"type":"quantitative"}}},
{"data":{"name":"leg"},"transform":[{"filter":"datum.e == 'orange'"}],"mark":{"type":"rule","color":"black","strokeWidth":7.5,"strokeCap":"butt"},"encoding":{"x":{"datum":0.133,"type":"quantitative"},"x2":{"datum":0.593},"y":{"datum":0.933,"type":"quantitative"}}},
{"data":{"name":"leg"},"transform":[{"filter":"datum.e == 'orange'"}],"mark":{"type":"rule","color":"#ff7f0e","strokeWidth":4.5,"strokeCap":"butt"},"encoding":{"x":{"datum":0.148,"type":"quantitative"},"x2":{"datum":0.578},"y":{"datum":0.933,"type":"quantitative"}}},
{"data":{"name":"leg"},"transform":[{"filter":"datum.e == 'blue'"}],"mark":{"type":"text","align":"left","baseline":"alphabetic","fontSize":18.5,"fill":"black"},"encoding":{"x":{"datum":0.737,"type":"quantitative"},"y":{"datum":1.122,"type":"quantitative"},"text":{"field":"label","type":"nominal"}}},
{"data":{"name":"leg"},"transform":[{"filter":"datum.e == 'orange'"}],"mark":{"type":"text","align":"left","baseline":"alphabetic","fontSize":18.5,"fill":"black"},"encoding":{"x":{"datum":0.737,"type":"quantitative"},"y":{"datum":0.886,"type":"quantitative"},"text":{"field":"label","type":"nominal"}}}
]},
{"width":391,"height":305,
"layer":[
{"data":{"name":"sim"},"transform":[{"filter":"datum.p == 6"}],"mark":{"type":"area","color":"#1f77b4","opacity":0.45,"clip":true},"encoding":{"x":{"field":"z","type":"quantitative","scale":{"domain":[0,4],"nice":false,"zero":false},"axis":{"title":"z","values":[0,0.5,1,1.5,2,2.5,3,3.5,4],"format":".1f","labelFlush":false,"labelPadding":6,"titleFontSize":22,"titlePadding":4}},"y":{"field":"b_lo","type":"quantitative","scale":{"domain":[0.7,3.3],"nice":false,"zero":false},"axis":{"title":null,"labels":false,"values":[1,1.5,2,2.5,3]}},"y2":{"field":"b_hi"}}},
{"data":{"name":"sim"},"transform":[{"filter":"datum.p == 6"}],"mark":{"type":"area","color":"#ff7f0e","opacity":0.5,"clip":true},"encoding":{"x":{"field":"z","type":"quantitative"},"y":{"field":"o_lo","type":"quantitative"},"y2":{"field":"o_hi"}}},
{"data":{"name":"sim"},"transform":[{"filter":"datum.p == 6"}],"mark":{"type":"line","color":"black","strokeWidth":7.5,"strokeCap":"square","clip":true},"encoding":{"x":{"field":"z","type":"quantitative"},"y":{"field":"b_med","type":"quantitative"}}},
{"data":{"name":"sim"},"transform":[{"filter":"datum.p == 6"}],"mark":{"type":"line","color":"#1f77b4","strokeWidth":4,"strokeCap":"square","clip":true},"encoding":{"x":{"field":"z","type":"quantitative"},"y":{"field":"b_med","type":"quantitative"}}},
{"data":{"name":"sim"},"transform":[{"filter":"datum.p == 6"}],"mark":{"type":"line","color":"black","strokeWidth":7.5,"strokeCap":"square","clip":true},"encoding":{"x":{"field":"z","type":"quantitative"},"y":{"field":"o_med","type":"quantitative"}}},
{"data":{"name":"sim"},"transform":[{"filter":"datum.p == 6"}],"mark":{"type":"line","color":"#ff7f0e","strokeWidth":4,"strokeCap":"square","clip":true},"encoding":{"x":{"field":"z","type":"quantitative"},"y":{"field":"o_med","type":"quantitative"}}},
{"data":{"name":"pts"},"transform":[{"filter":"datum.p == 6"}],"mark":{"type":"rule","color":"black","strokeWidth":2,"clip":true},"encoding":{"x":{"field":"z","type":"quantitative"},"y":{"field":"lo","type":"quantitative"},"y2":{"field":"hi"}}},
{"data":{"name":"pts"},"transform":[{"filter":"datum.p == 6 && datum.kind == 'nd'"}],"mark":{"type":"point","shape":"M0.4142,-1L1,-0.4142L1,0.4142L0.4142,1L-0.4142,1L-1,0.4142L-1,-0.4142L-0.4142,-1Z","filled":false,"stroke":"black","strokeWidth":1.6,"size":300,"opacity":1,"clip":true},"encoding":{"x":{"field":"z","type":"quantitative"},"y":{"field":"q","type":"quantitative"}}},
{"data":{"name":"pts"},"transform":[{"filter":"datum.p == 6 && datum.kind == 'all'"}],"mark":{"type":"point","shape":"square","filled":false,"stroke":"black","strokeWidth":1.6,"size":380,"opacity":1,"clip":true},"encoding":{"x":{"field":"z","type":"quantitative"},"y":{"field":"q","type":"quantitative"}}},
{"data":{"name":"labels"},"transform":[{"filter":"datum.p == 6"}],"mark":{"type":"text","align":"left","baseline":"alphabetic","fontSize":22.5,"fill":"black"},"encoding":{"x":{"datum":0.51,"type":"quantitative"},"y":{"datum":1.61,"type":"quantitative"},"text":{"field":"label","type":"nominal"}}}
]}
],
"config": {
"font": "DejaVu Sans",
"view": {"stroke": "black", "strokeWidth": 1},
"axis": {"grid": false, "domain": false, "tickColor": "black", "tickSize": 5, "tickWidth": 1, "labelColor": "black", "labelFont": "DejaVu Sans", "labelFontSize": 15, "labelPadding": 5, "titleFont": "DejaVu Sans", "titleFontSize": 24, "titleFontWeight": "normal", "titleColor": "black", "titlePadding": 8},
"text": {"font": "DejaVu Sans"}
}
}
